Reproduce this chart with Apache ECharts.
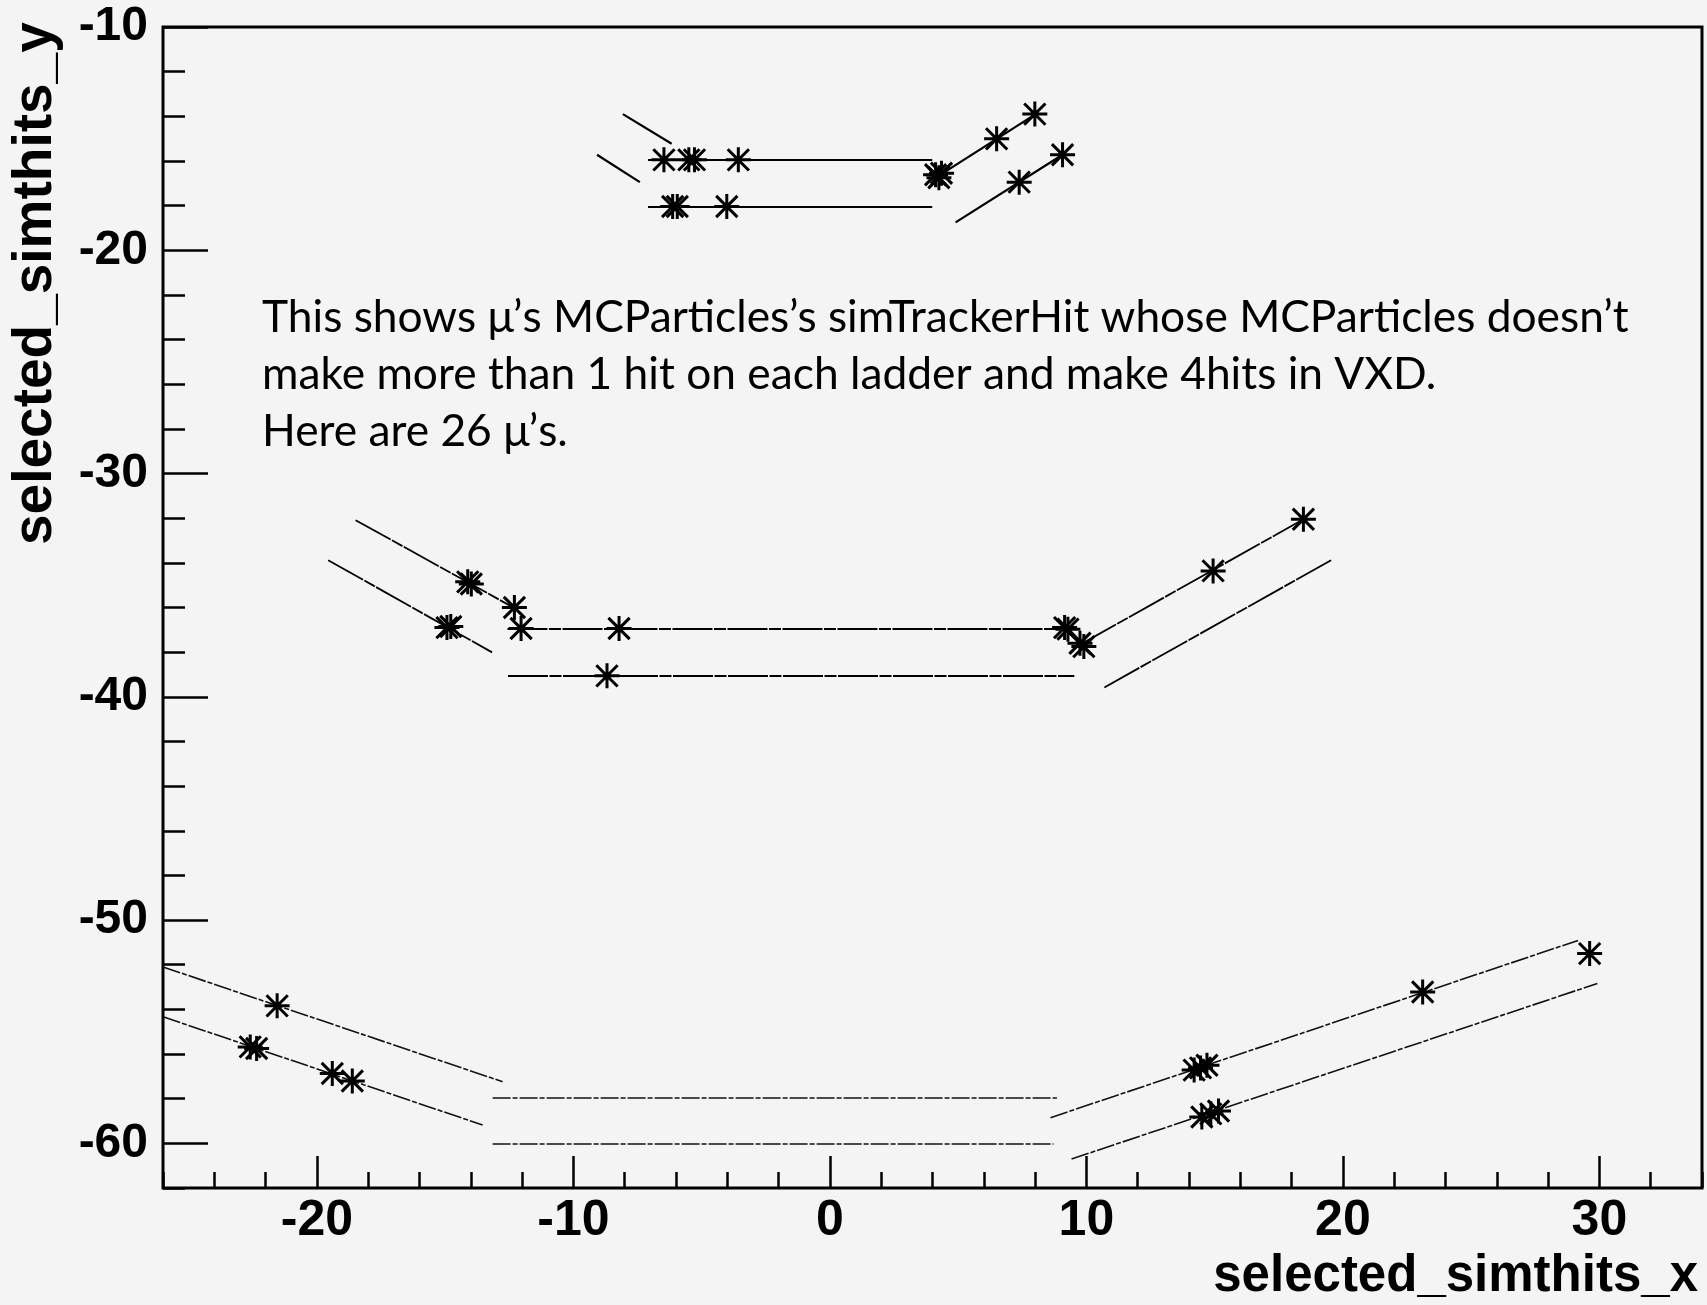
<!DOCTYPE html>
<html lang="en">

<head>
    <meta charset="UTF-8">
    <script src="https://cdn.jsdelivr.net/npm/echarts@6/dist/echarts.min.js"></script>
    <title>selected_simthits</title>
    <style>
        html, body { margin: 0; padding: 0; background: #f4f4f4; }
    </style>
</head>

<body>
    <div id="main" style="width: 1707px;height:1305px;"></div>
    <script>
        // axis ranges and labelled ticks
        var xRange = [-26, 34];
        var yRange = [-62, -10];
        var xMajor = [-20, -10, 0, 10, 20, 30];
        var yMajor = [-60, -50, -40, -30, -20, -10];

        // VXD ladders, each [x1, y1, x2, y2]
        var innerLadders = [
            [-8.07, -13.90, -6.17, -15.23],
            [-9.08, -15.72, -7.41, -16.95],
            [-7.09, -15.95, 3.99, -15.95],
            [-7.09, -18.04, 3.99, -18.04],
            [4.30, -16.62, 8.05, -13.88],
            [4.90, -18.75, 9.10, -15.70]
        ];
        var middleLadders = [
            [-18.49, -32.09, -12.23, -36.07],
            [-19.56, -33.88, -13.17, -38.01],
            [-12.57, -36.94, 9.20, -36.94],
            [-12.55, -39.06, 9.53, -39.06],
            [9.79, -37.64, 18.46, -32.05],
            [10.70, -39.58, 19.56, -33.87]
        ];
        var outerLadders = [
            [-26.0, -52.10, -12.76, -57.24],
            [-26.0, -54.33, -13.54, -59.18],
            [-13.15, -57.96, 8.85, -57.96],
            [-13.15, -60.03, 8.72, -60.03],
            [8.60, -58.85, 29.17, -50.91],
            [9.42, -60.70, 29.92, -52.84]
        ];

        // simTrackerHits, [x, y]
        var innerHits = [
            [-6.47, -15.95], [-5.50, -15.95], [-5.28, -15.95], [-3.57, -15.95],
            [-6.13, -18.04], [-5.95, -18.04], [-4.02, -18.04],
            [4.12, -16.62], [4.25, -16.75], [4.35, -16.55],
            [6.50, -15.01], [7.99, -13.90], [7.38, -16.95], [9.07, -15.72]
        ];
        var middleHits = [
            [-14.12, -34.85], [-13.98, -34.95], [-12.30, -36.00], [-12.04, -36.94], [-8.22, -36.94],
            [-14.93, -36.90], [-14.78, -36.85], [-8.69, -39.06],
            [9.15, -36.90], [9.28, -36.97], [9.75, -37.60], [9.90, -37.75],
            [14.94, -34.36], [18.46, -32.05]
        ];
        var outerHits = [
            [-21.55, -53.84], [-22.60, -55.68], [-22.35, -55.75], [-19.40, -56.87], [-18.62, -57.21],
            [14.20, -56.72], [14.45, -56.62], [14.70, -56.50],
            [14.50, -58.82], [14.85, -58.68], [15.15, -58.55],
            [23.11, -53.22], [29.62, -51.50]
        ];

        var noteLines = [
            'This shows μ’s MCParticles’s simTrackerHit whose MCParticles doesn’t',
            'make more than 1 hit on each ladder and make 4hits in VXD.',
            'Here are 26 μ’s.'
        ];

        function toSegments(list) {
            return list.map(function (s) {
                return { coords: [[s[0], s[1]], [s[2], s[3]]] };
            });
        }

        // fit the note font to the width in the picture
        var ctx = document.createElement('canvas').getContext('2d');
        ctx.font = '100px Lato';
        var noteSize = Math.min(48, 100 * 1368 / ctx.measureText(noteLines[0]).width);
        var noteBase = [333, 390, 447];

        var starPath = 'path://M0,-10L0,10M-10,0L10,0M-8.5,-8.5L8.5,8.5M-8.5,8.5L8.5,-8.5';
        var tickStyle = { color: '#000', width: 2.5 };
        var labelFont = { color: '#000', fontWeight: 'bold', fontFamily: 'Liberation Sans' };
        var noLine = { show: false, onZero: false };

        var myChart = echarts.init(document.getElementById('main'));
        var option = {
            backgroundColor: '#f4f4f4',
            animation: false,
            grid: {
                left: 163, right: 5, top: 27, bottom: 117,
                show: true, borderColor: '#000', borderWidth: 3
            },
            xAxis: [{
                type: 'value', min: xRange[0], max: xRange[1], interval: 2, position: 'bottom',
                axisLine: noLine, splitLine: { show: false },
                axisTick: { inside: true, length: 16, lineStyle: tickStyle },
                axisLabel: Object.assign({ customValues: xMajor, fontSize: 50, margin: 8 }, labelFont)
            }, {
                type: 'value', min: xRange[0], max: xRange[1], position: 'bottom',
                axisLine: noLine, splitLine: { show: false }, axisLabel: { show: false },
                axisTick: { inside: true, length: 32, customValues: xMajor, lineStyle: tickStyle }
            }],
            yAxis: [{
                type: 'value', min: yRange[0], max: yRange[1], interval: 2, position: 'left',
                axisLine: noLine, splitLine: { show: false },
                axisTick: { inside: true, length: 22, lineStyle: tickStyle },
                axisLabel: Object.assign({ customValues: yMajor, fontSize: 48, margin: 15 }, labelFont)
            }, {
                type: 'value', min: yRange[0], max: yRange[1], position: 'left',
                axisLine: noLine, splitLine: { show: false }, axisLabel: { show: false },
                axisTick: { inside: true, length: 45, customValues: yMajor, lineStyle: tickStyle }
            }],
            series: [
                {
                    type: 'lines', coordinateSystem: 'cartesian2d', silent: true,
                    lineStyle: { color: '#000', width: 2.2, opacity: 1 },
                    data: toSegments(innerLadders)
                },
                {
                    type: 'lines', coordinateSystem: 'cartesian2d', silent: true,
                    lineStyle: { color: '#000', width: 1.8, opacity: 1, type: [40, 1.5, 12, 1.5] },
                    data: toSegments(middleLadders)
                },
                {
                    type: 'lines', coordinateSystem: 'cartesian2d', silent: true,
                    lineStyle: { color: '#111', width: 1.6, opacity: 1, type: [18, 2, 5, 2] },
                    data: toSegments(outerLadders)
                },
                {
                    type: 'scatter', silent: true, symbol: starPath, symbolSize: 25,
                    itemStyle: { color: 'rgba(0,0,0,0)', borderColor: '#000', borderWidth: 3, opacity: 1 },
                    data: innerHits.concat(middleHits, outerHits)
                }
            ],
            graphic: [
                {
                    type: 'text', x: 36, y: 545, rotation: Math.PI / 2,
                    style: {
                        text: 'selected_simthits_y', align: 'left', verticalAlign: 'middle',
                        font: 'bold 55px "Liberation Sans"', fill: '#000'
                    }
                },
                {
                    type: 'text', x: 1698, y: 1277,
                    style: {
                        text: 'selected_simthits_x', align: 'right', verticalAlign: 'middle',
                        font: 'bold 51px "Liberation Sans"', fill: '#000'
                    }
                }
            ].concat(noteLines.map(function (t, i) {
                return {
                    type: 'text', x: 262, y: noteBase[i] - 0.34 * noteSize,
                    style: {
                        text: t, align: 'left', verticalAlign: 'middle',
                        font: noteSize.toFixed(1) + 'px Lato', fill: '#000'
                    }
                };
            }))
        };
        myChart.setOption(option);
    </script>
</body>

</html>
